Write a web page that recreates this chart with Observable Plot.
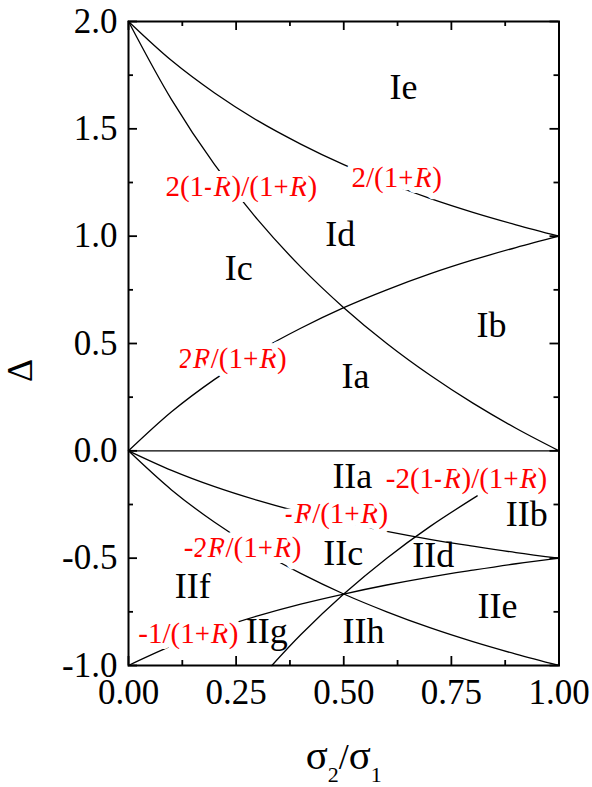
<!DOCTYPE html>
<html><head><meta charset="utf-8">
<script src="https://cdn.jsdelivr.net/npm/d3@7"></script>
<script src="https://cdn.jsdelivr.net/npm/@observablehq/plot@0.6"></script>
<style>html,body{margin:0;padding:0;background:#fff}#chart{width:592px;height:787px}</style>
</head><body><div id="chart"></div>
<script>
// sample abscissa (σ2/σ1 = R) and boundary values
const ratio = [0, 0.1, 0.2, 0.3, 0.4, 0.5, 0.6, 0.7, 0.8, 0.9, 1.0];
const bound2over = [2, 1.818, 1.667, 1.538, 1.429, 1.333, 1.25, 1.176, 1.111, 1.053, 1];
const bound2diff = [2, 1.636, 1.333, 1.077, 0.857, 0.667, 0.5, 0.353, 0.222, 0.105, 0];
const bound2R = [0, 0.182, 0.333, 0.462, 0.571, 0.667, 0.75, 0.824, 0.889, 0.947, 1];
const boundNegR = [0, -0.091, -0.167, -0.231, -0.286, -0.333, -0.375, -0.412, -0.444, -0.474, -0.5];
const boundNeg2R = [0, -0.182, -0.333, -0.462, -0.571, -0.667, -0.75, -0.824, -0.889, -0.947, -1];
const boundNeg1 = [-1, -0.909, -0.833, -0.769, -0.714, -0.667, -0.625, -0.588, -0.556, -0.526, -0.5];
const ratioNegDiff = [0.333, 0.4, 0.5, 0.6, 0.7, 0.81];
const boundNegDiff = [-1, -0.857, -0.667, -0.5, -0.353, -0.21];

const regionNames = ["Ie","Id","Ic","Ib","Ia","IIa","IIb","IIc","IId","IIe","IIf","IIg","IIh"];
const regionX = [0.639, 0.492, 0.256, 0.843, 0.527, 0.520, 0.925, 0.499, 0.708, 0.857, 0.149, 0.321, 0.546];
const regionY = [1.641, 0.955, 0.797, 0.531, 0.293, -0.174, -0.352, -0.533, -0.543, -0.781, -0.687, -0.897, -0.893];

const formulaText = ["2(1-R)/(1+R)","2/(1+R)","2R/(1+R)","-R/(1+R)","-2R/(1+R)","-2(1-R)/(1+R)","-1/(1+R)"];
const formulaX = [0.262, 0.623, 0.242, 0.483, 0.265, 0.785, 0.139];
const formulaY = [1.186, 1.229, 0.386, -0.338, -0.496, -0.174, -0.893];

const xTicks = [0, 0.25, 0.5, 0.75, 1];
const xMinor = [0.125, 0.375, 0.625, 0.875];
const yTicks = [-1, -0.5, 0, 0.5, 1, 1.5, 2];
const yMinor = [-0.75, -0.25, 0.25, 0.75, 1.25, 1.75];
const zeroLine = [0];
const xTitle = "σ2/σ1";
const yTitle = "Δ";

// build tables
const curveRows = [];
[["a", ratio, bound2over], ["b", ratio, bound2diff], ["c", ratio, bound2R],
 ["d", ratio, boundNegR], ["e", ratio, boundNeg2R], ["f", ratio, boundNeg1],
 ["g", ratioNegDiff, boundNegDiff]].forEach(([id, xs, ys]) => {
  xs.forEach((r, i) => curveRows.push({curve: id, r, v: ys[i]}));
});
const regions = regionNames.map((name, i) => ({name, x: regionX[i], y: regionY[i]}));
const formulas = formulaText.map((t, i) => ({t, x: formulaX[i], y: formulaY[i]}));

const W = 592, H = 787, mL = 128, mR = 33.5, mT = 21, mB = 122;
const plotW = W - mL - mR, plotH = H - mT - mB;
const major = 9, minor = 5, tickW = 1.8;

const chart = Plot.plot({
  width: W, height: H,
  marginLeft: mL, marginRight: mR, marginTop: mT, marginBottom: mB,
  x: {domain: [0, 1]},
  y: {domain: [-1, 2]},
  style: {fontFamily: "'Liberation Serif', 'Times New Roman', serif", fontSize: "35px", background: "white", color: "black", overflow: "visible"},
  marks: [
    Plot.ruleY(zeroLine, {stroke: "black", strokeWidth: 1.3}),
    Plot.line(curveRows, {x: "r", y: "v", z: "curve", curve: "catmull-rom", stroke: "black", strokeWidth: 1.3}),
    Plot.text(formulas, {x: "x", y: "y", text: "t", fill: "#ff0000", stroke: "white", strokeWidth: 12, strokeLinejoin: "round", paintOrder: "stroke", fontSize: 29, lineAnchor: "bottom", textAnchor: "middle"}),
    Plot.text(regions, {x: "x", y: "y", text: "name", fill: "black", fontSize: 36, lineAnchor: "bottom", textAnchor: "middle"}),
    Plot.frame({stroke: "black", strokeWidth: 2}),
    // inward ticks on all four sides
    Plot.ruleX(xTicks, {strokeWidth: tickW, insetTop: plotH - major}),
    Plot.ruleX(xTicks, {strokeWidth: tickW, insetBottom: plotH - major}),
    Plot.ruleX(xMinor, {strokeWidth: tickW, insetTop: plotH - minor}),
    Plot.ruleX(xMinor, {strokeWidth: tickW, insetBottom: plotH - minor}),
    Plot.ruleY(yTicks, {strokeWidth: tickW, insetRight: plotW - major}),
    Plot.ruleY(yTicks, {strokeWidth: tickW, insetLeft: plotW - major}),
    Plot.ruleY(yMinor, {strokeWidth: tickW, insetRight: plotW - minor}),
    Plot.ruleY(yMinor, {strokeWidth: tickW, insetLeft: plotW - minor}),
    Plot.axisX(xTicks, {tickSize: 0, tickPadding: 14, tickFormat: d => d.toFixed(2), label: null, fontSize: 35}),
    Plot.axisY(yTicks, {tickSize: 0, tickPadding: 11, tickFormat: d => d.toFixed(1), label: null, fontSize: 35}),
    Plot.text([xTitle], {frameAnchor: "bottom", dy: 103, lineAnchor: "bottom", textAnchor: "middle", fontSize: 36}),
    Plot.text([yTitle], {frameAnchor: "left", dx: -108, dy: 27, rotate: -90, lineAnchor: "middle", textAnchor: "middle", fontSize: 36})
  ]
});
document.getElementById("chart").appendChild(chart);

// rich text: italic R in formulas, subscripts in the x title
const ns = "http://www.w3.org/2000/svg";
const formulaSet = new Set(formulaText);
d3.select(chart).selectAll("text").each(function () {
  const t = this.textContent;
  if (formulaSet.has(t)) {
    while (this.firstChild) this.removeChild(this.firstChild);
    t.split("R").forEach((p, i) => {
      if (i > 0) {
        const ts = document.createElementNS(ns, "tspan");
        ts.setAttribute("font-style", "italic");
        ts.textContent = "R";
        this.appendChild(ts);
      }
      if (p) this.appendChild(document.createTextNode(p));
    });
    this.setAttribute("paint-order", "stroke");
    this.setAttribute("stroke-linejoin", "round");
  } else if (t === xTitle) {
    while (this.firstChild) this.removeChild(this.firstChild);
    const pieces = [["σ", 41, 0], ["2", 22, 13], ["/", 36, -13], ["σ", 41, 0], ["1", 22, 13]];
    pieces.forEach(([s, fs, dy]) => {
      const ts = document.createElementNS(ns, "tspan");
      ts.setAttribute("font-size", fs);
      if (dy) ts.setAttribute("dy", dy);
      ts.textContent = s;
      this.appendChild(ts);
    });
  }
});
</script>
</body></html>
